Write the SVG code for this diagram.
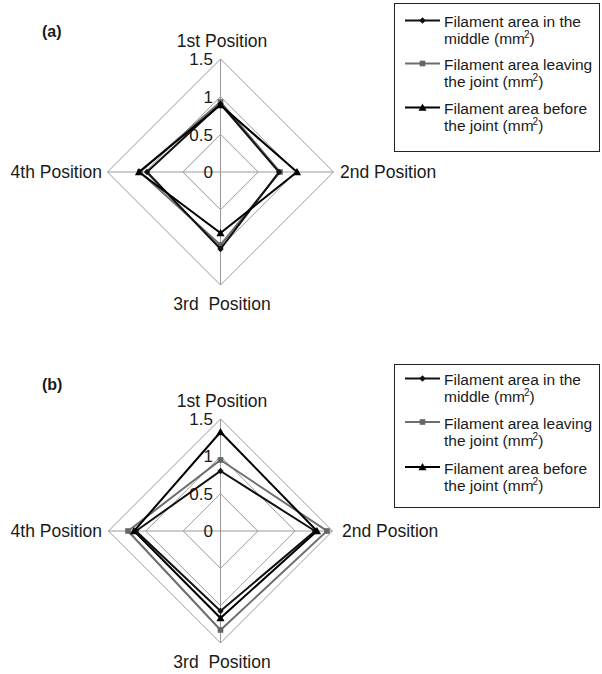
<svg xmlns="http://www.w3.org/2000/svg" width="602" height="674" viewBox="0 0 602 674">
<style>
text{font-family:"Liberation Sans",Arial,sans-serif;fill:#1a1a1a}
.lbl{font-size:17.5px}
.tick{font-size:17px;text-anchor:end}
.leg{font-size:15.5px}
.sup{font-size:10px}
.panel{font-size:16px;font-weight:bold}
.grid{fill:none;stroke:#9a9a9a;stroke-width:1}
.s1{fill:none;stroke:#111;stroke-width:2}
.s2{fill:none;stroke:#6e6e6e;stroke-width:2}
.s3{fill:none;stroke:#000;stroke-width:2}
.box{fill:#fff;stroke:#222;stroke-width:1}
</style>
<defs>
<marker id="mDia" viewBox="-5 -5 10 10" markerWidth="8" markerHeight="8" markerUnits="userSpaceOnUse"><path d="M0,-4 L4,0 L0,4 L-4,0 Z" fill="#111"/></marker>
<marker id="mSq" viewBox="-5 -5 10 10" markerWidth="8" markerHeight="8" markerUnits="userSpaceOnUse"><rect x="-3.5" y="-3.5" width="7" height="7" fill="#666"/></marker>
<marker id="mTri" viewBox="-5 -5 10 10" markerWidth="9" markerHeight="9" markerUnits="userSpaceOnUse"><path d="M0,-4.5 L4.5,3.5 L-4.5,3.5 Z" fill="#000"/></marker>
</defs>

<g id="panelA">
<text class="panel" x="42" y="37">(a)</text>
<g id="gridA">
<polygon class="grid" points="220.5,134.3 258.2,172 220.5,209.7 182.8,172"/>
<polygon class="grid" points="220.5,96.7 295.8,172 220.5,247.3 145.2,172"/>
<polygon class="grid" points="220.5,59 333.5,172 220.5,285 107.5,172"/>
<line class="grid" x1="220.5" y1="59" x2="220.5" y2="285"/>
<line class="grid" x1="107.5" y1="172" x2="333.5" y2="172"/>
</g>
<g id="ticksA">
<text class="tick" x="213" y="178">0</text>
<text class="tick" x="213" y="140.5">0.5</text>
<text class="tick" x="213" y="103">1</text>
<text class="tick" x="213" y="65">1.5</text>
</g>
<g id="labelsA">
<text class="lbl" x="222" y="47" text-anchor="middle">1st Position</text>
<text class="lbl" x="340" y="178">2nd Position</text>
<text class="lbl" x="222" y="310" text-anchor="middle" xml:space="preserve">3rd  Position</text>
<text class="lbl" x="102" y="178" text-anchor="end">4th Position</text>
</g>
<g id="seriesA">
<polygon class="s2" points="220.5,102 280,172 220.5,245 140,172" marker-start="url(#mSq)" marker-mid="url(#mSq)"/>
<polygon class="s1" points="220.5,104 279,172 220.5,249 147,172" marker-start="url(#mDia)" marker-mid="url(#mDia)"/>
<polygon class="s3" points="220.5,105 297,172 220.5,233 139,172" marker-start="url(#mTri)" marker-mid="url(#mTri)"/>
</g>
<g id="legendA">
<rect class="box" x="394.5" y="3.5" width="205" height="148"/>
<polyline class="s1" points="405,20.5 422.5,20.5 440,20.5" marker-mid="url(#mDia)"/>
<polyline class="s2" points="405,63.5 422.5,63.5 440,63.5" marker-mid="url(#mSq)"/>
<polyline class="s3" points="405,107.5 422.5,107.5 440,107.5" marker-mid="url(#mTri)"/>
<text class="leg" x="444" y="27">Filament area in the</text>
<text class="leg" x="444" y="43.5">middle (mm<tspan class="sup" dx="-1" dy="-6">2</tspan><tspan dy="6">)</tspan></text>
<text class="leg" x="444" y="70">Filament area leaving</text>
<text class="leg" x="444" y="86.5">the joint (mm<tspan class="sup" dx="-1" dy="-6">2</tspan><tspan dy="6">)</tspan></text>
<text class="leg" x="444" y="114">Filament area before</text>
<text class="leg" x="444" y="130.5">the joint (mm<tspan class="sup" dx="-1" dy="-6">2</tspan><tspan dy="6">)</tspan></text>
</g>
</g>

<g id="panelB">
<text class="panel" x="42" y="390">(b)</text>
<g id="gridB">
<polygon class="grid" points="220.5,493.7 257.8,531 220.5,568.3 183.2,531"/>
<polygon class="grid" points="220.5,456.3 295.2,531 220.5,605.7 145.8,531"/>
<polygon class="grid" points="220.5,419 332.5,531 220.5,643 108.5,531"/>
<line class="grid" x1="220.5" y1="419" x2="220.5" y2="643"/>
<line class="grid" x1="108.5" y1="531" x2="332.5" y2="531"/>
</g>
<g id="ticksB">
<text class="tick" x="213" y="537">0</text>
<text class="tick" x="213" y="499.5">0.5</text>
<text class="tick" x="213" y="462">1</text>
<text class="tick" x="213" y="425">1.5</text>
</g>
<g id="labelsB">
<text class="lbl" x="222" y="407" text-anchor="middle">1st Position</text>
<text class="lbl" x="342" y="537">2nd Position</text>
<text class="lbl" x="222" y="668" text-anchor="middle" xml:space="preserve">3rd  Position</text>
<text class="lbl" x="102" y="537" text-anchor="end">4th Position</text>
</g>
<g id="seriesB">
<polygon class="s2" points="220.5,460 327,531 220.5,630 128,531" marker-start="url(#mSq)" marker-mid="url(#mSq)"/>
<polygon class="s1" points="220.5,471 315,531 220.5,611 136,531" marker-start="url(#mDia)" marker-mid="url(#mDia)"/>
<polygon class="s3" points="220.5,432 317,531 220.5,618 134,531" marker-start="url(#mTri)" marker-mid="url(#mTri)"/>
</g>
<g id="legendB">
<rect class="box" x="394.5" y="364.5" width="205" height="143"/>
<polyline class="s1" points="405,378.5 422.5,378.5 440,378.5" marker-mid="url(#mDia)"/>
<polyline class="s2" points="405,422 422.5,422 440,422" marker-mid="url(#mSq)"/>
<polyline class="s3" points="405,467 422.5,467 440,467" marker-mid="url(#mTri)"/>
<text class="leg" x="444" y="385">Filament area in the</text>
<text class="leg" x="444" y="401.5">middle (mm<tspan class="sup" dx="-1" dy="-6">2</tspan><tspan dy="6">)</tspan></text>
<text class="leg" x="444" y="429">Filament area leaving</text>
<text class="leg" x="444" y="445.5">the joint (mm<tspan class="sup" dx="-1" dy="-6">2</tspan><tspan dy="6">)</tspan></text>
<text class="leg" x="444" y="474">Filament area before</text>
<text class="leg" x="444" y="490.5">the joint (mm<tspan class="sup" dx="-1" dy="-6">2</tspan><tspan dy="6">)</tspan></text>
</g>
</g>
</svg>
